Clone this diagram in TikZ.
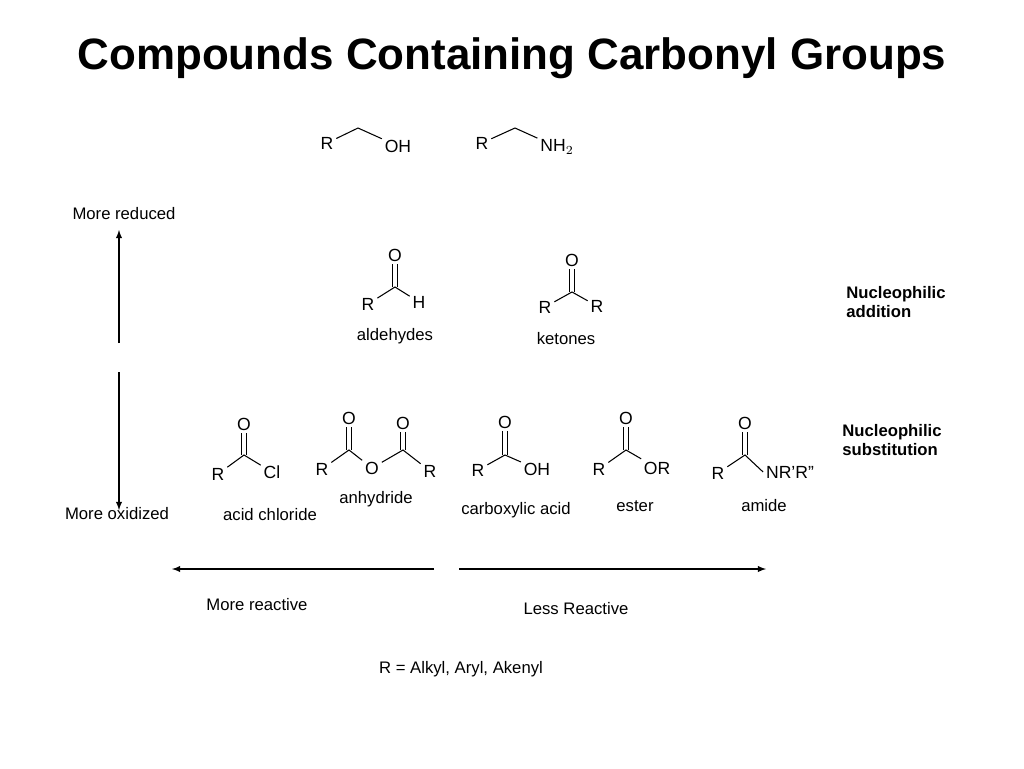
\documentclass[tikz,border=0pt]{standalone}
\usepackage{fontspec}
\setmainfont{Liberation Sans}
\begin{document}
\begin{tikzpicture}[x=0.02cm,y=-0.02cm,
    atom/.style={font=\fontsize{10}{12}\selectfont, inner sep=1.5pt},
    lbl/.style={font=\fontsize{9.5}{12}\selectfont, inner sep=0pt},
    side/.style={font=\fontsize{9.5}{11}\selectfont\bfseries, align=left, anchor=west, inner sep=0pt},
    bond/.style={line width=0.6pt},
    dbond/.style={bond, double, double distance=2pt},
    arrow/.style={line width=0.6pt,-latex}]
    \useasboundingbox (0,0) rectangle (1024,768);
    % Title
    \node (title) at (512,58) {\fontsize{25}{30}\selectfont\bfseries Compounds Containing Carbonyl Groups};

    % Alcohol and amine
    \node (r1) [atom] at (327,143) {R};
    \coordinate (c1) at (358,128);
    \node (oh1) [atom] at (398,146) {OH};
    \draw [bond] (r1) -- (c1) -- (oh1);
    \node (r2) [atom] at (482,143) {R};
    \coordinate (c2) at (515,128);
    \node (nh2) [atom] at (557,147) {NH$_2$};
    \draw [bond] (r2) -- (c2) -- (nh2);

    % Aldehyde
    \node (ald-o) [atom] at (395,255) {O};
    \coordinate (ald-c) at (395,287);
    \node (ald-r) [atom] at (368,304) {R};
    \node (ald-h) [atom] at (419,302) {H};
    \draw [dbond] (ald-c) -- (ald-o);
    \draw [bond] (ald-r) -- (ald-c) -- (ald-h);
    \node (aldehydes) [lbl] at (395,336) {aldehydes};

    % Ketone
    \node (ket-o) [atom] at (572,260) {O};
    \coordinate (ket-c) at (572,292);
    \node (ket-r1) [atom] at (545,307) {R};
    \node (ket-r2) [atom] at (597,306) {R};
    \draw [dbond] (ket-c) -- (ket-o);
    \draw [bond] (ket-r1) -- (ket-c) -- (ket-r2);
    \node (ketones) [lbl] at (566,339) {ketones};

    % Acid chloride
    \node (acl-o) [atom] at (244,424) {O};
    \coordinate (acl-c) at (244,455);
    \node (acl-r) [atom] at (218,474) {R};
    \node (acl-cl) [atom] at (272,472) {Cl};
    \draw [dbond] (acl-c) -- (acl-o);
    \draw [bond] (acl-r) -- (acl-c) -- (acl-cl);
    \node (aclname) [lbl] at (270,515) {acid chloride};

    % Anhydride
    \node (anh-o1) [atom] at (349,418) {O};
    \coordinate (anh-c1) at (349,450);
    \node (anh-r1) [atom] at (322,469) {R};
    \node (anh-ob) [atom] at (372,468) {O};
    \coordinate (anh-c2) at (403,450);
    \node (anh-o2) [atom] at (403,423) {O};
    \node (anh-r2) [atom] at (430,471) {R};
    \draw [dbond] (anh-c1) -- (anh-o1);
    \draw [dbond] (anh-c2) -- (anh-o2);
    \draw [bond] (anh-r1) -- (anh-c1) -- (anh-ob) -- (anh-c2) -- (anh-r2);
    \node (anhname) [lbl] at (376,499) {anhydride};

    % Carboxylic acid
    \node (cox-o) [atom] at (505,422) {O};
    \coordinate (cox-c) at (505,455);
    \node (cox-r) [atom] at (478,470) {R};
    \node (cox-oh) [atom] at (537,469) {OH};
    \draw [dbond] (cox-c) -- (cox-o);
    \draw [bond] (cox-r) -- (cox-c) -- (cox-oh);
    \node (coxname) [lbl] at (516,510) {carboxylic acid};

    % Ester
    \node (est-o) [atom] at (626,418) {O};
    \coordinate (est-c) at (626,450);
    \node (est-r) [atom] at (599,469) {R};
    \node (est-or) [atom] at (657,468) {OR};
    \draw [dbond] (est-c) -- (est-o);
    \draw [bond] (est-r) -- (est-c) -- (est-or);
    \node (estname) [lbl] at (635,506) {ester};

    % Amide
    \node (amd-o) [atom] at (745,423) {O};
    \coordinate (amd-c) at (745,455);
    \node (amd-r) [atom] at (718,473) {R};
    \node (amd-n) [atom] at (790,472) {NR'R''};
    \draw [dbond] (amd-c) -- (amd-o);
    \draw [bond] (amd-r) -- (amd-c) -- (amd-n.west);
    \node (amdname) [lbl] at (764,506) {amide};

    % Side labels
    \node (addn) [side] at (846,302) {Nucleophilic\\addition};
    \node (subst) [side] at (842,440) {Nucleophilic\\substitution};

    % Oxidation axis
    \node (reduced) [lbl] at (124,214) {More reduced};
    \node (oxidized) [lbl] at (117,514) {More oxidized};
    \coordinate (up-s) at (119,343);
    \coordinate (up-e) at (119,230);
    \coordinate (dn-s) at (119,372);
    \coordinate (dn-e) at (119,510);
    \draw [arrow] (up-s) -- (up-e);
    \draw [arrow] (dn-s) -- (dn-e);

    % Reactivity axis
    \coordinate (lt-s) at (434,569);
    \coordinate (lt-e) at (172,569);
    \coordinate (rt-s) at (459,569);
    \coordinate (rt-e) at (766,569);
    \draw [arrow] (lt-s) -- (lt-e);
    \draw [arrow] (rt-s) -- (rt-e);
    \node (morereact) [lbl] at (257,605) {More reactive};
    \node (lessreact) [lbl] at (576,609) {Less Reactive};

    \node (rdef) [lbl] at (461,669) {R = Alkyl, Aryl, Akenyl};
\end{tikzpicture}
\end{document}
